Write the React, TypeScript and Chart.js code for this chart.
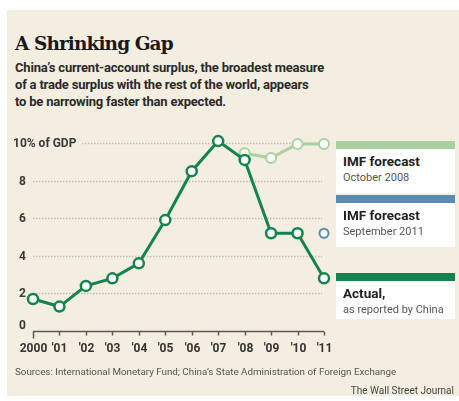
import React, { useEffect, useRef } from "react";
import { Chart, registerables } from "chart.js";

Chart.register(...registerables);

const years = ["2000", "'01", "'02", "'03", "'04", "'05", "'06", "'07", "'08", "'09", "'10", "'11"];
const actual = [1.7, 1.3, 2.4, 2.8, 3.6, 5.9, 8.5, 10.1, 9.1, 5.2, 5.2, 2.8];
const imfOct2008 = [null, null, null, null, null, null, null, null, 9.45, 9.2, 9.95, 9.95];
const imfSep2011 = [null, null, null, null, null, null, null, null, null, null, null, 5.2];
const yTicks = [0, 2, 4, 6, 8, 10];
const yTickLabels = ["0", "2", "4", "6", "8", "10% of GDP"];

const BG = "#f4eee1";
const DARK = "#14834d";
const LIGHT = "#a8d0a0";
const BLUE = "#5a8bb5";
const FONT = "Roboto, 'Open Sans', sans-serif";

const axesPlugin = {
  id: "wsjAxes",
  beforeDatasetsDraw(chart: any) {
    const ctx = chart.ctx;
    const x = chart.scales.x;
    const y = chart.scales.y;
    const left = x.getPixelForValue(0);
    const right = x.getPixelForValue(years.length - 1);
    ctx.save();
    yTicks.forEach((v, i) => {
      const py = Math.round(y.getPixelForValue(v)) + 0.5;
      ctx.font = `bold 12px ${FONT}`;
      ctx.fillStyle = "#3a3a3a";
      ctx.textBaseline = "middle";
      ctx.strokeStyle = "#c2bcaf";
      ctx.setLineDash([1.5, 1.5]);
      ctx.lineWidth = 1.5;
      if (v === 10) {
        ctx.textAlign = "left";
        ctx.fillText(yTickLabels[i], 13, py);
        ctx.beginPath();
        ctx.moveTo(82, py);
        ctx.lineTo(right - 2, py);
        ctx.stroke();
      } else if (v === 0) {
        ctx.textAlign = "right";
        ctx.fillText(yTickLabels[i], 26, py - 6);
      } else {
        ctx.textAlign = "right";
        ctx.fillText(yTickLabels[i], 26, py);
        ctx.beginPath();
        ctx.moveTo(left, py);
        ctx.lineTo(right - 2, py);
        ctx.stroke();
      }
    });
    ctx.setLineDash([]);
    const py0 = Math.round(y.getPixelForValue(0)) + 0.5;
    ctx.strokeStyle = "#5a5a5a";
    ctx.lineWidth = 1.5;
    ctx.beginPath();
    ctx.moveTo(left, py0);
    ctx.lineTo(right, py0);
    ctx.stroke();
    years.forEach((lab, i) => {
      const px = Math.round(x.getPixelForValue(i)) + 0.5;
      ctx.beginPath();
      ctx.moveTo(px, py0);
      ctx.lineTo(px, py0 + (i === 0 ? 7 : 4));
      ctx.stroke();
      ctx.font = `bold 12px ${FONT}`;
      ctx.fillStyle = "#333";
      ctx.textAlign = "center";
      ctx.textBaseline = "middle";
      ctx.fillText(lab, px, py0 + 17);
    });
    ctx.restore();
  },
};

function ChartCanvas() {
  const ref = useRef<HTMLCanvasElement>(null);
  useEffect(() => {
    const chart = new Chart(ref.current!, {
      type: "line",
      data: {
        labels: years,
        datasets: [
          {
            label: "IMF forecast September 2011",
            data: imfSep2011,
            borderColor: BLUE,
            backgroundColor: "#ffffff",
            showLine: false,
            pointRadius: 4.5,
            pointBorderWidth: 2,
            pointBackgroundColor: "#ffffff",
            pointBorderColor: BLUE,
            order: 3,
          },
          {
            label: "IMF forecast October 2008",
            data: imfOct2008,
            borderColor: LIGHT,
            borderWidth: 3,
            pointRadius: 5,
            pointBorderWidth: 2,
            pointBackgroundColor: "#ffffff",
            pointBorderColor: LIGHT,
            spanGaps: false,
            order: 2,
          },
          {
            label: "Actual, as reported by China",
            data: actual,
            borderColor: DARK,
            borderWidth: 3,
            pointRadius: 5,
            pointBorderWidth: 2.5,
            pointBackgroundColor: "#ffffff",
            pointBorderColor: DARK,
            order: 1,
          },
        ],
      },
      options: {
        animation: false,
        responsive: false,
        maintainAspectRatio: false,
        devicePixelRatio: 1,
        clip: false as any,
        layout: { padding: { left: 33, right: 135, top: 143, bottom: 70 } },
        plugins: { legend: { display: false }, tooltip: { enabled: false }, title: { display: false } },
        scales: {
          x: { type: "category", display: false, offset: false },
          y: { display: false, min: 0, max: 10 },
        },
        elements: { line: { tension: 0 } },
      },
      plugins: [axesPlugin],
    });
    return () => chart.destroy();
  }, []);
  return <canvas ref={ref} width={459} height={401} style={{ position: "absolute", left: 0, top: 0, width: 459, height: 401 }} />;
}

export default function App() {
  const legendBox = (top: number, barColor: string, h: number, title: string, sub: string) => (
    <div style={{ position: "absolute", left: 336, top, width: 119 }}>
      <div style={{ height: 8, background: barColor }} />
      <div style={{ background: "#ffffff", height: h, paddingLeft: 7, fontFamily: FONT }}>
        <div style={{ fontWeight: 700, fontSize: 13.5, color: "#222", paddingTop: 4, lineHeight: "16px" }}>{title}</div>
        <div style={{ fontSize: 11, color: "#555", lineHeight: "16px", paddingTop: 1 }}>{sub}</div>
      </div>
    </div>
  );
  return (
    <div style={{ position: "fixed", left: 0, top: 0, width: 459, height: 401, background: "#ffffff", overflow: "hidden" }}>
      <div style={{ position: "absolute", left: 7, top: 10, width: 452, height: 386, background: BG }} />
      <div style={{ position: "absolute", left: 15, top: 32, fontFamily: "'DejaVu Serif', serif", fontWeight: 700, fontSize: 18.5, color: "#1a1a1a", letterSpacing: -0.9, lineHeight: "24px" }}>
        A Shrinking Gap
      </div>
      <div style={{ position: "absolute", left: 15, top: 59, fontFamily: FONT, fontWeight: 700, fontSize: 13, color: "#2a2a2a", lineHeight: "17px", letterSpacing: -0.2, whiteSpace: "nowrap" }}>
        <div>China’s current-account surplus, the broadest measure</div>
        <div>of a trade surplus with the rest of the world, appears</div>
        <div>to be narrowing faster than expected.</div>
      </div>
      <ChartCanvas />
      {legendBox(141, LIGHT, 44, "IMF forecast", "October 2008")}
      {legendBox(195, BLUE, 44, "IMF forecast", "September 2011")}
      {legendBox(273, DARK, 38, "Actual,", "as reported by China")}
      <div style={{ position: "absolute", left: 15, top: 366, fontFamily: FONT, fontSize: 9.8, color: "#555", whiteSpace: "nowrap" }}>
        Sources: International Monetary Fund; China’s State Administration of Foreign Exchange
      </div>
      <div style={{ position: "absolute", right: 5, top: 385, fontFamily: FONT, fontSize: 10, color: "#444", whiteSpace: "nowrap" }}>
        The Wall Street Journal
      </div>
    </div>
  );
}
